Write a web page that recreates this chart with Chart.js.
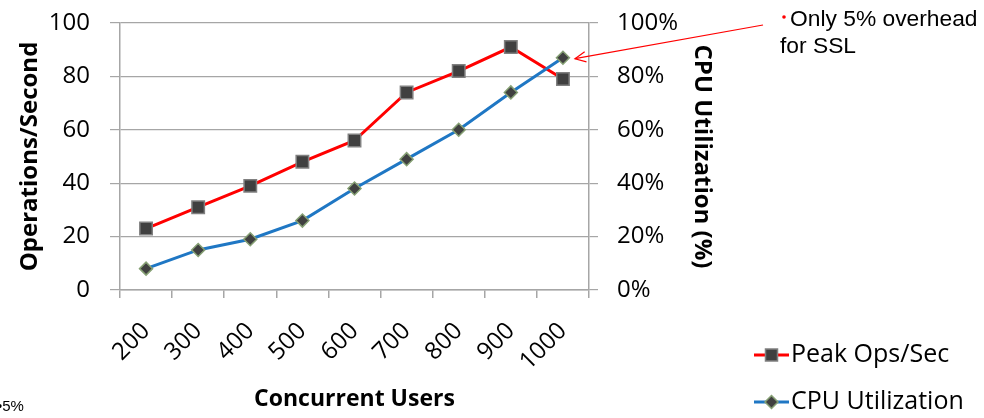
<!DOCTYPE html>
<html>
<head>
<meta charset="utf-8">
<script src="https://cdn.jsdelivr.net/npm/chart.js@4/dist/chart.umd.min.js"></script>
<style>
  html, body { margin: 0; padding: 0; background: #ffffff; }
  #wrap { width: 984px; height: 418px; position: relative; }
</style>
</head>
<body>
<div id="wrap"><canvas id="chart" width="984" height="418"></canvas></div>
<script>
// Concurrent users on the x axis
const categories = ['200', '300', '400', '500', '600', '700', '800', '900', '1000'];
// Peak operations per second (left axis)
const peakOps = [23, 31, 39, 48, 56, 74, 82, 91, 79];
// CPU utilization in percent (right axis)
const cpuUtil = [8, 15, 19, 26, 38, 49, 60, 74, 87];
// Axis tick settings
const opsTickStep = 20;
const opsMax = 100;
const cpuTickStep = 20;
const cpuMax = 100;
// Callout text
const noteLines = ['Only 5% overhead', 'for SSL'];
const cornerNote = '\u20225%';

const GRID = '#a6a6a6';
const FONT = "'Open Sans', 'Liberation Sans', sans-serif";

const seriesStyle = [
  { label: 'Peak Ops/Sec', line: '#ff0000', fill: '#404040', edge: '#808080', shape: 'rect' },
  { label: 'CPU Utilization', line: '#1f77c4', fill: '#404040', edge: '#86a074', shape: 'diamond' }
];

function drawMarker(ctx, shape, x, y, fill, edge) {
  ctx.save();
  ctx.fillStyle = fill;
  ctx.strokeStyle = edge;
  ctx.lineWidth = 1.5;
  ctx.beginPath();
  if (shape === 'rect') {
    ctx.rect(x - 6, y - 6, 12, 12);
  } else {
    ctx.moveTo(x, y - 6.5);
    ctx.lineTo(x + 6.5, y);
    ctx.lineTo(x, y + 6.5);
    ctx.lineTo(x - 6.5, y);
    ctx.closePath();
  }
  ctx.fill();
  ctx.stroke();
  ctx.restore();
}

// vertical axes: fixed width, no extra label padding above/below the plot
function fixVertical(width) {
  return (s) => {
    s.width = width;
    s.paddingTop = 0;
    s.paddingBottom = 0;
  };
}

// Legend in the lower right plus the SSL callout arrow
const extras = {
  id: 'extras',
  afterDraw(chart) {
    const ctx = chart.ctx;
    ctx.save();

    // legend
    const legendX = 754;
    const legendRows = [355, 402];
    chart.data.datasets.forEach((ds, i) => {
      const st = seriesStyle[i];
      const y = legendRows[i];
      ctx.strokeStyle = st.line;
      ctx.lineWidth = 3;
      ctx.beginPath();
      ctx.moveTo(legendX, y);
      ctx.lineTo(legendX + 35, y);
      ctx.stroke();
      drawMarker(ctx, st.shape, legendX + 17.5, y, st.fill, st.edge);
      ctx.fillStyle = '#000';
      ctx.font = '25px ' + FONT;
      ctx.textAlign = 'left';
      ctx.textBaseline = 'middle';
      ctx.fillText(ds.label, legendX + 37, y);
    });

    // callout text
    ctx.font = '22.8px "Liberation Sans", Arial, sans-serif';
    ctx.textAlign = 'left';
    ctx.textBaseline = 'alphabetic';
    ctx.fillStyle = '#000';
    ctx.fillText(noteLines[0], 790, 26);
    ctx.fillText(noteLines[1], 780, 53);
    ctx.fillStyle = '#ff0000';
    ctx.beginPath();
    ctx.arc(784, 17, 1.8, 0, Math.PI * 2);
    ctx.fill();

    // arrow pointing at the last CPU point
    const yScale = chart.scales.y1;
    const xScale = chart.scales.x;
    const tipX = xScale.getPixelForValue(categories.length - 1) + 12;
    const tipY = yScale.getPixelForValue(cpuUtil[cpuUtil.length - 1]) + 1;
    const startX = 763, startY = 25;
    const ang = Math.atan2(startY - tipY, startX - tipX);
    ctx.strokeStyle = '#ff0000';
    ctx.lineWidth = 1.2;
    ctx.beginPath();
    ctx.moveTo(startX, startY);
    ctx.lineTo(tipX, tipY);
    ctx.stroke();
    const len = 12, spread = 0.45;
    ctx.beginPath();
    ctx.moveTo(tipX + len * Math.cos(ang - spread), tipY + len * Math.sin(ang - spread));
    ctx.lineTo(tipX, tipY);
    ctx.lineTo(tipX + len * Math.cos(ang + spread), tipY + len * Math.sin(ang + spread));
    ctx.stroke();

    // corner note
    ctx.fillStyle = '#000';
    ctx.font = '15px "Liberation Sans", Arial, sans-serif';
    ctx.fillText(cornerNote, -3, 411);

    ctx.restore();
  }
};

new Chart(document.getElementById('chart'), {
  type: 'line',
  data: {
    labels: categories,
    datasets: [
      {
        label: seriesStyle[0].label,
        data: peakOps,
        yAxisID: 'y',
        borderColor: seriesStyle[0].line,
        borderWidth: 3,
        pointStyle: 'rect',
        pointRadius: 8.8,
        pointBackgroundColor: seriesStyle[0].fill,
        pointBorderColor: seriesStyle[0].edge,
        pointBorderWidth: 1.5,
        tension: 0,
        order: 1
      },
      {
        label: seriesStyle[1].label,
        data: cpuUtil,
        yAxisID: 'y1',
        borderColor: seriesStyle[1].line,
        borderWidth: 3,
        pointStyle: 'rectRot',
        pointRadius: 6.5,
        pointBackgroundColor: seriesStyle[1].fill,
        pointBorderColor: seriesStyle[1].edge,
        pointBorderWidth: 1.5,
        tension: 0,
        order: 0
      }
    ]
  },
  options: {
    responsive: false,
    animation: false,
    layout: { padding: { top: 23, right: 268, bottom: 0, left: 0 } },
    plugins: {
      legend: { display: false },
      tooltip: { enabled: false }
    },
    scales: {
      x: {
        offset: true,
        grid: { offset: true, drawOnChartArea: false, drawTicks: true, tickLength: 8, color: GRID, lineWidth: 1.5 },
        border: { display: true, color: GRID, width: 1.5 },
        ticks: { minRotation: 45, maxRotation: 45, padding: 19, color: '#000', font: { family: FONT, size: 24 } },
        title: { display: true, text: 'Concurrent Users', color: '#000', padding: { top: 0, bottom: 5 }, font: { family: FONT, size: 23, weight: 'bold' } },
        afterFit: (s) => { s.height = 128; }
      },
      y: {
        position: 'left',
        min: 0,
        max: opsMax,
        ticks: { stepSize: opsTickStep, padding: 20, color: '#000', font: { family: FONT, size: 24 } },
        grid: { color: GRID, tickLength: 10, lineWidth: 1.2 },
        border: { display: true, color: GRID, width: 1.5 },
        title: { display: true, text: 'Operations/Second', color: '#000', padding: { top: 16, bottom: 0 }, font: { family: FONT, size: 24, weight: 'bold' } },
        afterFit: fixVertical(120)
      },
      y1: {
        position: 'right',
        min: 0,
        max: cpuMax,
        ticks: { stepSize: cpuTickStep, padding: 19, color: '#000', font: { family: FONT, size: 24 }, callback: (v) => v + '%' },
        grid: { drawOnChartArea: false, color: GRID, tickLength: 9, lineWidth: 1.2 },
        border: { display: true, color: GRID, width: 1.5 },
        title: { display: true, text: 'CPU Utilization (%)', color: '#000', padding: { top: 0, bottom: 0 }, font: { family: FONT, size: 24, weight: 'bold' } },
        afterFit: fixVertical(127)
      }
    }
  },
  plugins: [extras]
});
</script>
</body>
</html>
